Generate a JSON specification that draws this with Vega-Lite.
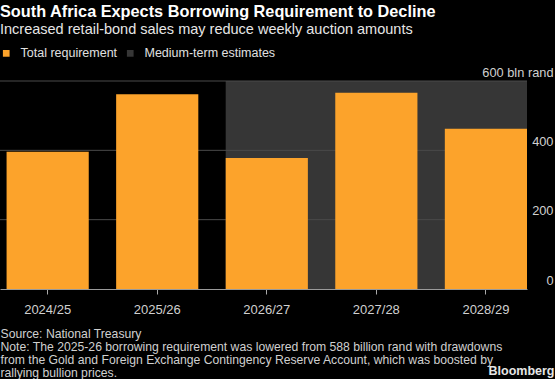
{
  "$schema": "https://vega.github.io/schema/vega-lite/v6.json",
  "width": 527,
  "height": 208,
  "autosize": {"type": "none"},
  "padding": {"left": 0, "top": 81, "right": 28, "bottom": 90},
  "background": "#000000",
  "config": {
    "view": {"stroke": null},
    "font": "Liberation Sans"
  },
  "title": {
    "text": "South Africa Expects Borrowing Requirement to Decline",
    "subtitle": "Increased retail-bond sales may reduce weekly auction amounts",
    "anchor": "start",
    "frame": "group",
    "font": "Liberation Sans",
    "fontSize": 16.3,
    "fontWeight": "bold",
    "color": "#ffffff",
    "subtitleFont": "Liberation Sans",
    "subtitleFontSize": 14.5,
    "subtitleColor": "#e6e6e6",
    "subtitlePadding": 3,
    "offset": 10
  },
  "datasets": {
    "bars": [
      {"year": "2024/25", "value": 396, "series": "Total requirement"},
      {"year": "2025/26", "value": 562, "series": "Total requirement"},
      {"year": "2026/27", "value": 378, "series": "Total requirement"},
      {"year": "2027/28", "value": 566, "series": "Total requirement"},
      {"year": "2028/29", "value": 462, "series": "Total requirement"}
    ],
    "shade": [
      {"start": "2026/27", "end": "2028/29", "lo": 0, "hi": 600, "series": "Medium-term estimates"}
    ],
    "grid": [{"v": 200}, {"v": 400}, {"v": 600}]
  },
  "layer": [
    {
      "data": {"name": "shade"},
      "mark": {"type": "rect"},
      "encoding": {
        "x": {"field": "start", "type": "ordinal", "bandPosition": 0,
              "scale": {"type": "band", "domain": ["2024/25", "2025/26", "2026/27", "2027/28", "2028/29"], "paddingInner": 0.25, "paddingOuter": 0.03, "align": 1},
              "axis": {
                "labelAngle": 0,
                "labelFont": "Liberation Sans",
                "labelFontSize": 13,
                "labelColor": "#d0d0d0",
                "labelPadding": 9,
                "tickColor": "#aaaaaa",
                "tickSize": 5,
                "domainColor": "#9a9a9a",
                "title": [
                  "Source: National Treasury",
                  "Note: The 2025-26 borrowing requirement was lowered from 588 billion rand with drawdowns",
                  "from the Gold and Foreign Exchange Contingency Reserve Account, which was boosted by",
                  "rallying bullion prices."
                ],
                "titleFont": "Liberation Sans",
                "titleFontSize": 12.2,
                "titleFontWeight": "normal",
                "titleColor": "#d0d0d0",
                "titleAlign": "left",
                "titleAnchor": "start",
                "titleBaseline": "top",
                "titleLineHeight": 13,
                "titleX": 0,
                "titleY": 38.5
              }},
        "x2": {"field": "end", "bandPosition": 1},
        "y": {"field": "lo", "type": "quantitative", "scale": {"domain": [0, 600]},
              "axis": {
                "orient": "right",
                "values": [0, 200, 400, 600],
                "grid": false,
                "domain": false,
                "ticks": false,
                "labelAlign": "right",
                "labelBaseline": "bottom",
                "labelOffset": -2,
                "labelPadding": 26,
                "labelFont": "Liberation Sans",
                "labelFontSize": 12.8,
                "labelColor": "#d0d0d0",
                "labelExpr": "datum.value == 600 ? '600 bln rand' : datum.label",
                "title": "Bloomberg",
                "titleAngle": 0,
                "titleAlign": "right",
                "titleBaseline": "middle",
                "titleX": 27,
                "titleY": 289,
                "titleFont": "Liberation Sans",
                "titleFontSize": 12.5,
                "titleFontWeight": "bold",
                "titleColor": "#e6e6e6"
              }},
        "y2": {"field": "hi"},
        "color": {"field": "series", "type": "nominal",
                  "scale": {"domain": ["Total requirement", "Medium-term estimates"], "range": ["#fca32b", "#363636"]},
                  "legend": {
                    "orient": "top",
                    "direction": "horizontal",
                    "title": null,
                    "symbolType": "square",
                    "symbolSize": 45,
                    "symbolStrokeWidth": 0,
                    "labelFont": "Liberation Sans",
                    "labelFontSize": 12.5,
                    "labelColor": "#e0e0e0",
                    "labelOffset": 8,
                    "columnPadding": 6,
                    "padding": 0,
                    "offset": 21
                  }}
      }
    },
    {
      "data": {"name": "grid"},
      "mark": {"type": "rule", "color": "#4a4a4a", "strokeWidth": 1},
      "encoding": {
        "y": {"field": "v", "type": "quantitative"}
      }
    },
    {
      "data": {"name": "bars"},
      "mark": {"type": "bar"},
      "encoding": {
        "x": {"field": "year", "type": "ordinal"},
        "y": {"field": "value", "type": "quantitative"},
        "color": {"field": "series", "type": "nominal"}
      }
    }
  ]
}
